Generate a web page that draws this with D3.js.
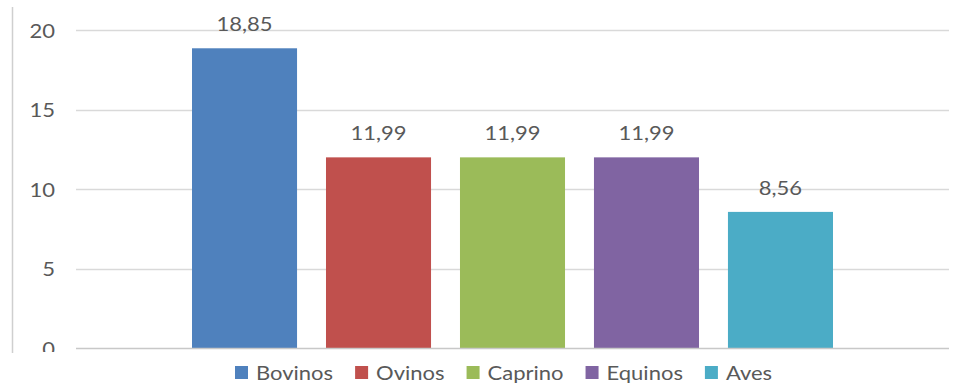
<!DOCTYPE html>
<html><head><meta charset="utf-8">
<script src="https://cdn.jsdelivr.net/npm/d3@7"></script>
<style>html,body{margin:0;padding:0;background:#fff;}svg{display:block;}</style>
</head><body><svg id="c" width="969" height="387"></svg>
<script>
const series = ["Bovinos","Ovinos","Caprino","Equinos","Aves"];
const values = [18.85, 11.99, 11.99, 11.99, 8.56];
const labels = ["18,85","11,99","11,99","11,99","8,56"];
const colors = ["#4f81bd","#c0504d","#9bbb59","#8064a2","#4bacc6"];
const yTicks = [0,5,10,15,20];

const svg = d3.select("#c");
const font = "Lato, 'Liberation Sans', sans-serif";
const textColor = "#595959";
const sx = 1.1;

const plot = {left:76, right:949, top:30, bottom:348};
const y = d3.scaleLinear().domain([0,20]).range([plot.bottom, plot.top]);
const groupPad = 116;
const x = d3.scaleBand().domain(series)
  .range([plot.left+groupPad, plot.right-groupPad]).paddingInner(0.216).paddingOuter(0);

// gridlines
svg.append("g").selectAll("line").data(yTicks.filter(d=>d>0)).join("line")
  .attr("x1",plot.left).attr("x2",plot.right)
  .attr("y1",d=>Math.round(y(d))+0.5).attr("y2",d=>Math.round(y(d))+0.5)
  .attr("stroke","#d9d9d9").attr("stroke-width",1.5);

// y axis labels
const yAxis = d3.axisLeft(y).tickValues(yTicks).tickSize(0).tickPadding(0);
const ga = svg.append("g").attr("transform","translate(55,0)").call(yAxis);
ga.select(".domain").remove();
ga.selectAll("text").attr("font-family",font).attr("font-size",20).attr("fill",textColor)
  .attr("dy","0.35em").attr("transform",`scale(${sx},1)`);

// bars
svg.append("g").selectAll("rect").data(series).join("rect")
  .attr("x",d=>x(d)).attr("width",x.bandwidth())
  .attr("y",(d,i)=>y(values[i])).attr("height",(d,i)=>y(0)-y(values[i]))
  .attr("fill",(d,i)=>colors[i]);

// data labels
svg.append("g").selectAll("text").data(series).join("text")
  .attr("transform",(d,i)=>`translate(${x(d)+x.bandwidth()/2},${y(values[i])-17}) scale(${sx},1)`)
  .attr("text-anchor","middle").attr("font-family",font).attr("font-size",20)
  .attr("fill",textColor).text((d,i)=>labels[i]);

// white mask (cropped region below axis)
svg.append("rect").attr("x",0).attr("y",352).attr("width",969).attr("height",35).attr("fill","#fff");

// baseline axis
svg.append("line").attr("x1",plot.left).attr("x2",plot.right)
  .attr("y1",y(0)+0.5).attr("y2",y(0)+0.5).attr("stroke","#c8c8c8").attr("stroke-width",1.5);

// left vertical line
svg.append("line").attr("x1",12.5).attr("x2",12.5).attr("y1",7).attr("y2",353)
  .attr("stroke","#cfcfcf").attr("stroke-width",1.5);

// legend
const lg = svg.append("g");
let lx = 235;
series.forEach((s,i)=>{
  lg.append("rect").attr("x",lx).attr("y",366).attr("width",13).attr("height",13).attr("fill",colors[i]);
  const t = lg.append("text").attr("transform",`translate(${lx+21},380) scale(${sx},1)`)
    .attr("font-family",font).attr("font-size",20).attr("fill",textColor).text(s);
  lx += 21 + t.node().getComputedTextLength()*sx + 22;
});
</script></body></html>
